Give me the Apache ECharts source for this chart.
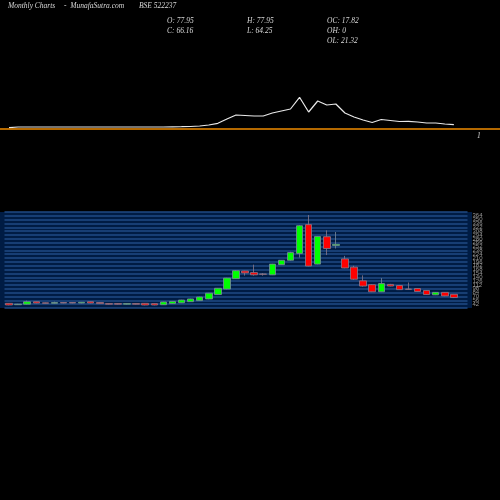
<!DOCTYPE html>
<html>
<head>
<meta charset="utf-8">
<script src="https://cdn.jsdelivr.net/npm/echarts@6/dist/echarts.min.js"></script>
<style>html,body{margin:0;background:#000}#c{width:500px;height:500px}</style>
</head>
<body>
<div id="c"></div>
<script>
// monthly candles: [open, close, low, high]
const candles = [
    [45,39,38,46],[40,42,39,43],[42,51,41,55],[51,46,45,52],[47,45,44,48],
    [45,48,44,51],[48,46,45,49],[48,46,45,49],[46,49,45,50],[51,46,45,52],
    [48,44,43,49],[44,42,41,45],[44,42,41,45],[42,44,41,45],[44,42,41,45],
    [45,39,38,46],[44,39,38,45],[40,50,39,51],[44,52,43,53],[47,57,46,58],
    [51,61,50,62],[55,68,54,69],[61,82,60,83],[77,100,76,101],[97,137,96,138],
    [135,164,134,166],[163,156,146,164],[157,149,146,186],[152,151,146,155],[149,188,148,189],
    [186,202,185,203],[202,230,200,233],[227,328,212,330],[332,181,180,367],[188,289,187,290],
    [288,245,221,311],[256,260,245,305],[207,174,173,218],[177,133,131,182],[127,108,106,147],
    [113,87,86,115],[87,117,86,137],[114,108,107,116],[110,95,94,111],[97,96,95,121],
    [99,88,87,100],[92,77,76,93],[76,85,75,86],[85,72,71,86],[77.95,66.16,64.25,77.95]
];
// upper panel indicator line
const indicator = [
    2.3,3,3,3,3,3,3,3,3,3,3,3,3,3,3,3,3,3,3.2,3.3,
    3.5,4,5,6.7,11,15,14.5,14,14,17,19,21,32.7,18,29,25,26,17,13,10,
    7.5,10.5,9.5,8.5,8.7,8,7,7,6,5.3
];
const months = candles.map((d, i) => 'M' + (i + 1));
months.push('');
const ohlcText = ['O: 77.95', 'C: 66.16', 'H: 77.95', 'L: 64.25', 'OC: 17.82', 'OH: 0', 'OL: 21.32'];

const chart = echarts.init(document.getElementById('c'));
const txt = {fill: '#d8d8d8', fontFamily: 'Liberation Serif', fontStyle: 'italic', fontSize: 7.5};
function t(x, y, s) { return {type: 'text', left: x, top: y, style: Object.assign({text: s}, txt)}; }

chart.setOption({
    backgroundColor: '#000',
    animation: false,
    graphic: [
        {type: 'rect', shape: {x: 0, y: 212, width: 472, height: 96}, style: {fill: '#001c44'}, z: -10},
        {type: 'line', shape: {x1: 0, y1: 129, x2: 500, y2: 129}, style: {stroke: '#f08c00', lineWidth: 1.5}, z: 10},
        t(8, 2, 'Monthly Charts'), t(64, 2, '-  MunafaSutra.com'), t(139, 2, 'BSE 522237'),
        t(167, 17, ohlcText[0]), t(167, 27, ohlcText[1]),
        t(247, 17, ohlcText[2]), t(247, 27, ohlcText[3]),
        t(327, 17, ohlcText[4]), t(327, 27, ohlcText[5]), t(327, 37, ohlcText[6]),
        t(477, 132, '1')
    ],
    grid: [
        {left: 4.5, top: 80, width: 463, height: 50},
        {left: 4.5, top: 212, width: 463, height: 96}
    ],
    xAxis: [
        {gridIndex: 0, type: 'category', data: months, show: false},
        {gridIndex: 1, type: 'category', data: months, show: false}
    ],
    yAxis: [
        {gridIndex: 0, min: 0, max: 50, show: false},
        {gridIndex: 1, min: 28, max: 378, interval: 14, position: 'right',
         axisLine: {show: false}, axisTick: {show: false},
         axisLabel: {color: '#999', fontSize: 6, margin: 5},
         splitLine: {show: true, lineStyle: {color: '#1f4a85', width: 1.5}}}
    ],
    series: [
        {type: 'line', xAxisIndex: 0, yAxisIndex: 0, data: indicator, symbol: 'none',
         lineStyle: {color: '#e8e8e8', width: 1.2}},
        {type: 'candlestick', xAxisIndex: 1, yAxisIndex: 1, data: candles, barWidth: 7,
         itemStyle: {color: '#00ff00', color0: '#ff0000', borderColor: '#7a8a99', borderColor0: '#8a7a8a', borderWidth: 0.8}}
    ]
});
</script>
</body>
</html>
